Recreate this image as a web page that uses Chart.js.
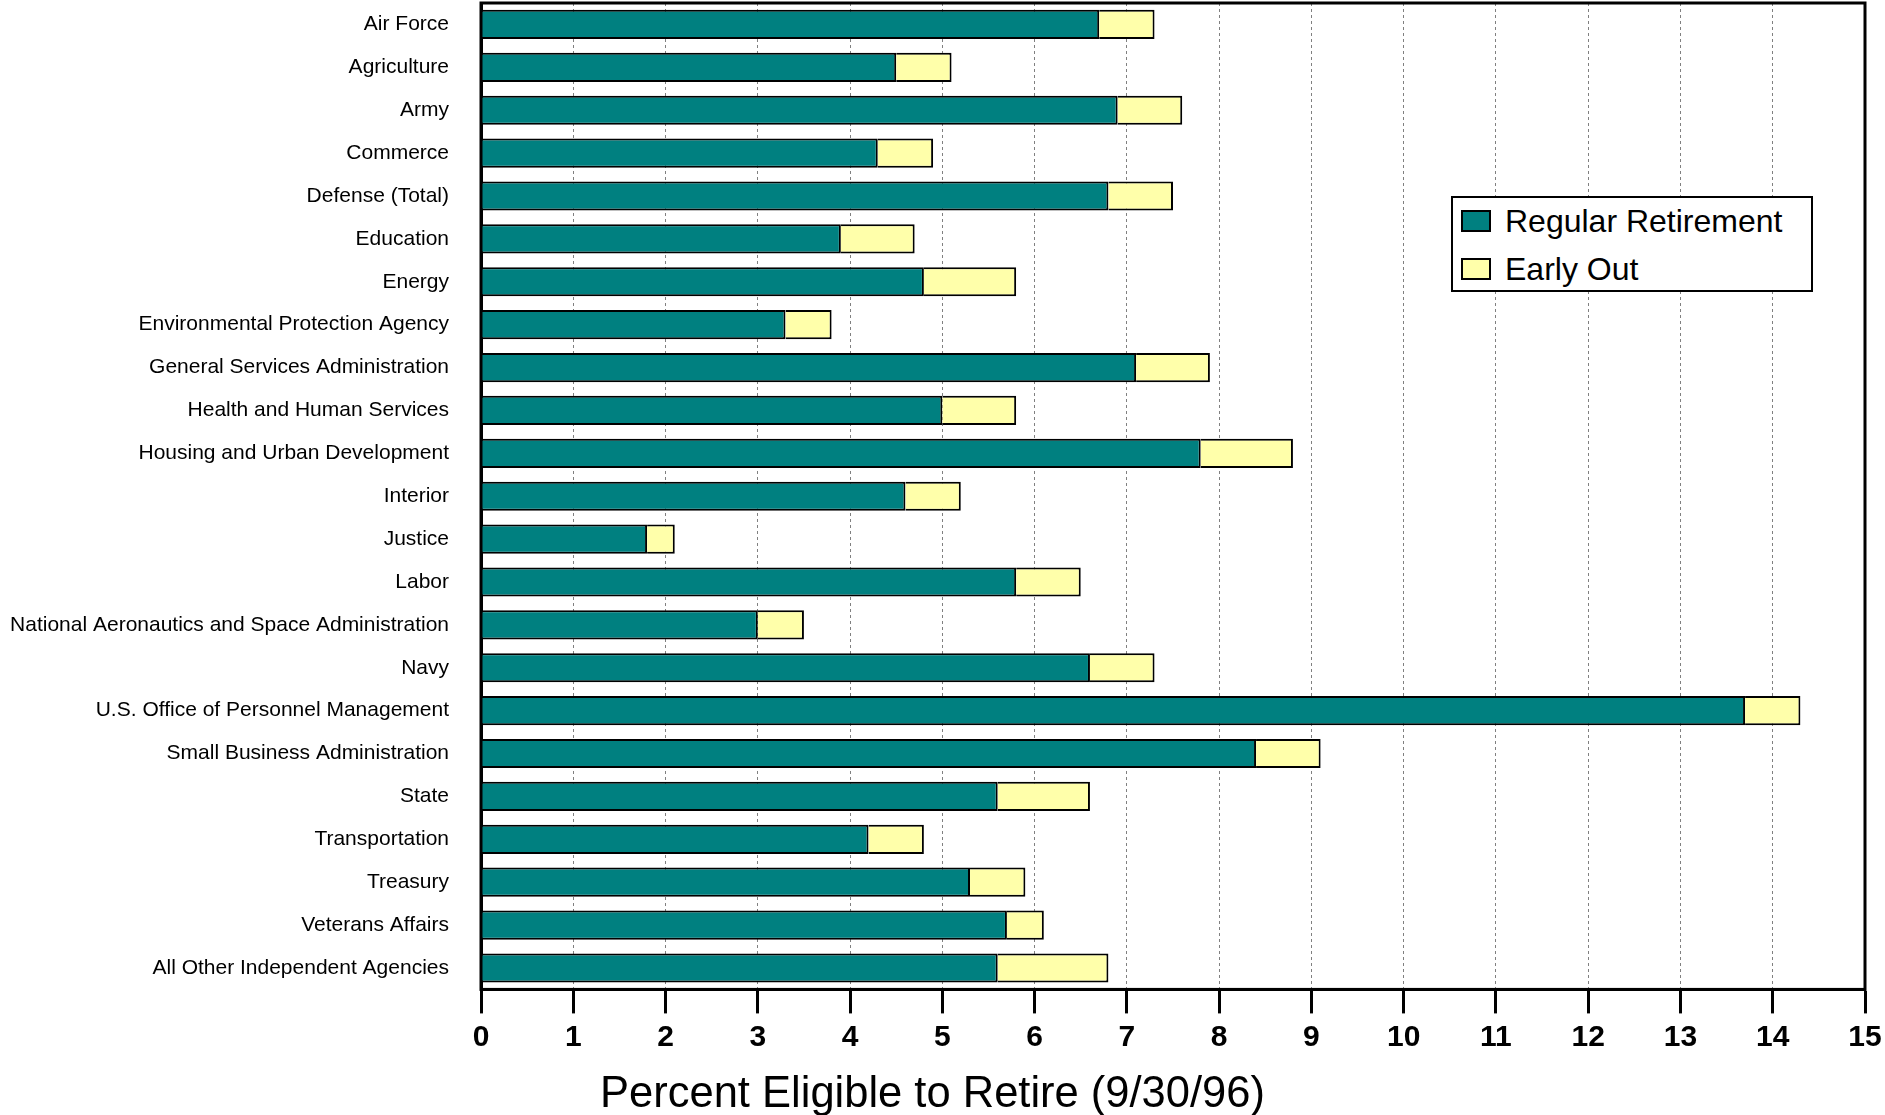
<!DOCTYPE html>
<html>
<head>
<meta charset="utf-8">
<script src="https://cdn.jsdelivr.net/npm/chart.js@4/dist/chart.umd.min.js"></script>
<style>
  html, body { margin: 0; padding: 0; background: #fff; }
  #wrap { position: relative; width: 1885px; height: 1115px; }
  #legend {
    position: absolute; left: 1451px; top: 196px; width: 362px; height: 96px;
    box-sizing: border-box; border: 2px solid #000; background: #fff;
    font-family: "Liberation Sans", Arial, sans-serif; font-size: 32px; color: #000;
  }
  .row { position: absolute; left: 8px; display: flex; align-items: center; height: 40px; }
  .sw { width: 26px; height: 18px; border: 2px solid #000; margin-right: 14px; }
</style>
</head>
<body>
<div id="wrap">
  <canvas id="c"></canvas>
  <div id="legend"></div>
</div>
<script>
const categories = [
  "Air Force", "Agriculture", "Army", "Commerce", "Defense (Total)", "Education",
  "Energy", "Environmental Protection Agency", "General Services Administration",
  "Health and Human Services", "Housing and Urban Development", "Interior", "Justice",
  "Labor", "National Aeronautics and Space Administration", "Navy",
  "U.S. Office of Personnel Management", "Small Business Administration", "State",
  "Transportation", "Treasury", "Veterans Affairs", "All Other Independent Agencies"
];
const regularRetirement = [6.7, 4.5, 6.9, 4.3, 6.8, 3.9, 4.8, 3.3, 7.1, 5.0, 7.8, 4.6, 1.8,
                           5.8, 3.0, 6.6, 13.7, 8.4, 5.6, 4.2, 5.3, 5.7, 5.6];
const earlyOut = [0.6, 0.6, 0.7, 0.6, 0.7, 0.8, 1.0, 0.5, 0.8, 0.8, 1.0, 0.6, 0.3,
                  0.7, 0.5, 0.7, 0.6, 0.7, 1.0, 0.6, 0.6, 0.4, 1.2];
const seriesNames = ["Regular Retirement", "Early Out"];
const seriesColors = ["#008080", "#ffffaa"];
const xMin = 0, xMax = 15, xStep = 1;
const xTitle = "Percent Eligible to Retire (9/30/96)";

const FONT = '"Liberation Sans", Arial, sans-serif';

const framePlugin = {
  id: 'frame',
  afterDraw(chart) {
    const {ctx, chartArea: a} = chart;
    ctx.save();
    ctx.strokeStyle = '#000';
    ctx.lineWidth = 3;
    ctx.strokeRect(a.left, a.top, a.right - a.left, a.bottom - a.top);
    ctx.restore();
  }
};

function noPad(s) { s.paddingTop = 0; s.paddingBottom = 0; s.paddingLeft = 0; s.paddingRight = 0; }

const chart = new Chart(document.getElementById('c'), {
  type: 'bar',
  data: {
    labels: categories,
    datasets: [
      { label: seriesNames[0], data: regularRetirement, backgroundColor: seriesColors[0],
        borderColor: '#000', borderWidth: 2 },
      { label: seriesNames[1], data: earlyOut, backgroundColor: seriesColors[1],
        borderColor: '#000', borderWidth: 2 }
    ]
  },
  options: {
    indexAxis: 'y',
    responsive: true,
    maintainAspectRatio: false,
    animation: false,
    devicePixelRatio: 1,
    layout: { padding: { top: 3, right: 20, left: 0, bottom: 0 } },
    datasets: { bar: { barPercentage: 0.68, categoryPercentage: 1.0 } },
    plugins: {
      legend: { display: false },
      tooltip: { enabled: false },
      title: {
        display: true, position: 'bottom', text: xTitle, color: '#000',
        font: { family: FONT, size: 43.5, weight: 'normal', lineHeight: 0.91 },
        padding: { top: 16, bottom: 0 }
      }
    },
    scales: {
      x: {
        type: 'linear', min: xMin, max: xMax, stacked: true,
        ticks: { stepSize: xStep, color: '#000', padding: 6,
                 font: { family: FONT, size: 30, weight: 'bold' } },
        grid: { display: true, color: '#808080', lineWidth: 1, drawTicks: true,
                tickLength: 24, tickColor: '#000', tickWidth: 3, tickBorderDash: [] },
        border: { display: true, color: '#000', width: 3, dash: [3, 3] },
        afterFit(s) { s.height = 70; noPad(s); }
      },
      y: {
        type: 'category', stacked: true,
        ticks: { color: '#000', padding: 32, font: { family: FONT, size: 21 } },
        grid: { display: false, drawTicks: false },
        border: { display: true, color: '#000', width: 3 },
        afterFit(s) { s.width = 481; noPad(s); }
      }
    }
  },
  plugins: [framePlugin]
});

// HTML legend built from the datasets
const legendEl = document.getElementById('legend');
chart.data.datasets.forEach((ds, i) => {
  const row = document.createElement('div');
  row.className = 'row';
  row.style.top = (i === 0 ? 3 : 51) + 'px';
  const sw = document.createElement('div');
  sw.className = 'sw';
  sw.style.background = ds.backgroundColor;
  const tx = document.createElement('span');
  tx.textContent = ds.label;
  row.appendChild(sw);
  row.appendChild(tx);
  legendEl.appendChild(row);
});
</script>
</body>
</html>
